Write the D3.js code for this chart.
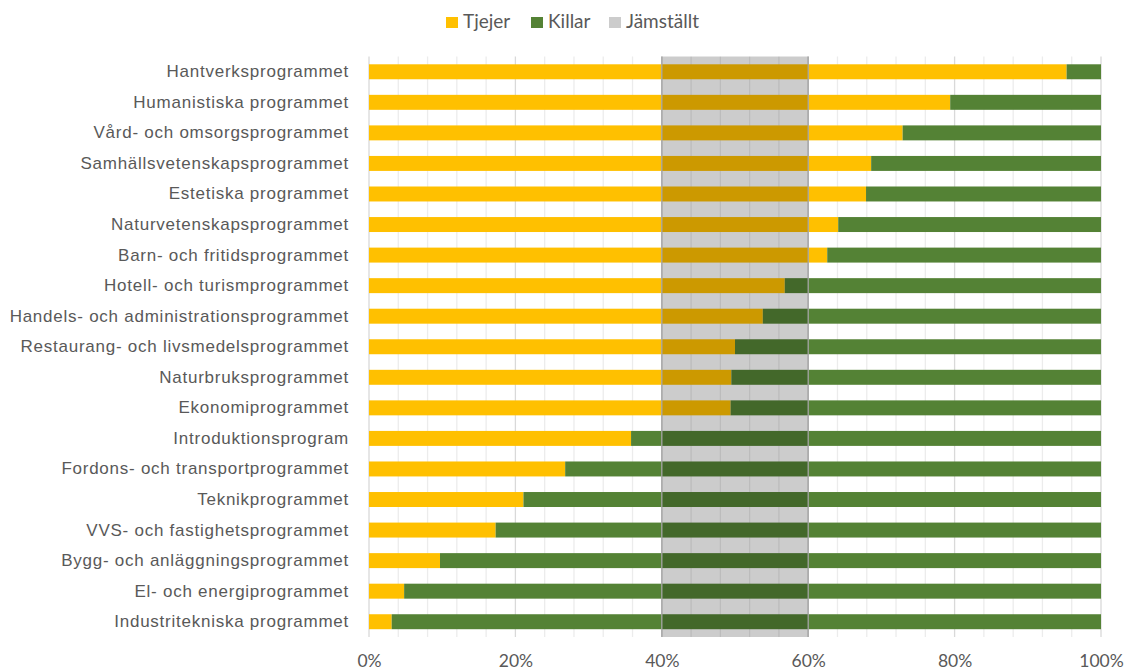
<!DOCTYPE html>
<html lang="sv">
<head>
<meta charset="utf-8">
<script src="https://cdn.jsdelivr.net/npm/d3@7"></script>
<style>
  html, body { margin: 0; padding: 0; background: #ffffff; }
  svg { display: block; }
</style>
</head>
<body>
<svg id="chart" width="1126" height="670"></svg>
<script>
// Gymnasieprogram, andel tjejer och killar (procent)
const programs = [
  "Hantverksprogrammet",
  "Humanistiska programmet",
  "Vård- och omsorgsprogrammet",
  "Samhällsvetenskapsprogrammet",
  "Estetiska programmet",
  "Naturvetenskapsprogrammet",
  "Barn- och fritidsprogrammet",
  "Hotell- och turismprogrammet",
  "Handels- och administrationsprogrammet",
  "Restaurang- och livsmedelsprogrammet",
  "Naturbruksprogrammet",
  "Ekonomiprogrammet",
  "Introduktionsprogram",
  "Fordons- och transportprogrammet",
  "Teknikprogrammet",
  "VVS- och fastighetsprogrammet",
  "Bygg- och anläggningsprogrammet",
  "El- och energiprogrammet",
  "Industritekniska programmet"
];
const tjejer = [95.3, 79.4, 72.9, 68.6, 67.9, 64.1, 62.6, 56.8, 53.8, 50.0, 49.5, 49.4, 35.8, 26.8, 21.1, 17.3, 9.7, 4.8, 3.1];
const killar = [4.7, 20.6, 27.1, 31.4, 32.1, 35.9, 37.4, 43.2, 46.2, 50.0, 50.5, 50.6, 64.2, 73.2, 78.9, 82.7, 90.3, 95.2, 96.9];

// Jämställt intervall (40–60 %)
const jamstallt = [40, 60];

const xTicks = [0, 20, 40, 60, 80, 100];
const gridTicks = d3.range(0, 101, 4);

const seriesNames = ["Tjejer", "Killar", "Jämställt"];
const seriesColors = ["#FFC000", "#548235", "#CCCCCC"];

const svg = d3.select("#chart");
const margin = { top: 56.5, right: 25, bottom: 33, left: 369 };
const width = 1126 - margin.left - margin.right;
const height = 670 - margin.top - margin.bottom;

const x = d3.scaleLinear().domain([0, 100]).range([0, width]);
const y = d3.scaleBand().domain(programs).range([0, height]).paddingInner(0.51).paddingOuter(0.255);

const g = svg.append("g").attr("transform", `translate(${margin.left},${margin.top})`);

// Rutnät
g.append("g")
  .selectAll("line")
  .data(gridTicks.filter(d => d > 0))
  .join("line")
  .attr("x1", d => x(d)).attr("x2", d => x(d))
  .attr("y1", 0).attr("y2", height)
  .attr("stroke", d => d % 20 === 0 ? "#d9d9d9" : "#ececec")
  .attr("stroke-width", 1.3);

// Vertikal axellinje vid 0 %
g.append("line")
  .attr("x1", x(0)).attr("x2", x(0))
  .attr("y1", 0).attr("y2", height)
  .attr("stroke", "#d9d9d9").attr("stroke-width", 1.3);

// Staplade staplar
const rows = programs.map((p, i) => ({ name: p, t: tjejer[i], k: killar[i] }));
const stack = d3.stack().keys(["t", "k"]);
const stacked = stack(rows);

g.append("g")
  .selectAll("g")
  .data(stacked)
  .join("g")
  .attr("fill", (d, i) => seriesColors[i])
  .selectAll("rect")
  .data(d => d)
  .join("rect")
  .attr("x", d => x(d[0]))
  .attr("width", d => x(d[1]) - x(d[0]))
  .attr("y", d => y(d.data.name))
  .attr("height", y.bandwidth());

// Jämställt-fält, halvgenomskinligt över staplarna
g.append("rect")
  .attr("x", x(jamstallt[0]))
  .attr("width", x(jamstallt[1]) - x(jamstallt[0]))
  .attr("y", 0)
  .attr("height", height)
  .attr("fill", "#000000")
  .attr("fill-opacity", 0.2);

g.append("g")
  .selectAll("line")
  .data(jamstallt)
  .join("line")
  .attr("x1", d => x(d)).attr("x2", d => x(d))
  .attr("y1", 0).attr("y2", height)
  .attr("stroke", "#a6a6a6").attr("stroke-width", 1.3);

// Kategorietiketter
const yAxis = d3.axisLeft(y).tickSize(0).tickPadding(20);
g.append("g")
  .call(yAxis)
  .call(s => s.select(".domain").remove())
  .selectAll("text")
  .attr("fill", "#595959")
  .attr("font-family", "'Liberation Sans', Arial, sans-serif")
  .attr("font-size", "17px")
  .attr("letter-spacing", "0.75px");

// X-axel
const xAxis = d3.axisBottom(x).tickValues(xTicks).tickSize(0).tickPadding(18).tickFormat(d => d + "%");
g.append("g")
  .attr("transform", `translate(0,${height})`)
  .call(xAxis)
  .call(s => s.select(".domain").remove())
  .selectAll("text")
  .attr("fill", "#595959")
  .attr("font-family", "Lato, 'Open Sans', sans-serif")
  .attr("font-size", "17.5px");

// Förklaring
const legendX = [446, 531, 609];
const legend = svg.append("g")
  .selectAll("g")
  .data(seriesNames)
  .join("g")
  .attr("transform", (d, i) => `translate(${legendX[i]},17)`);
legend.append("rect")
  .attr("width", 12).attr("height", 11)
  .attr("fill", (d, i) => seriesColors[i]);
legend.append("text")
  .attr("x", 17).attr("y", 11)
  .attr("fill", "#595959")
  .attr("font-family", "Lato, 'Open Sans', sans-serif")
  .attr("font-size", "19px")
  .text(d => d);
</script>
</body>
</html>
